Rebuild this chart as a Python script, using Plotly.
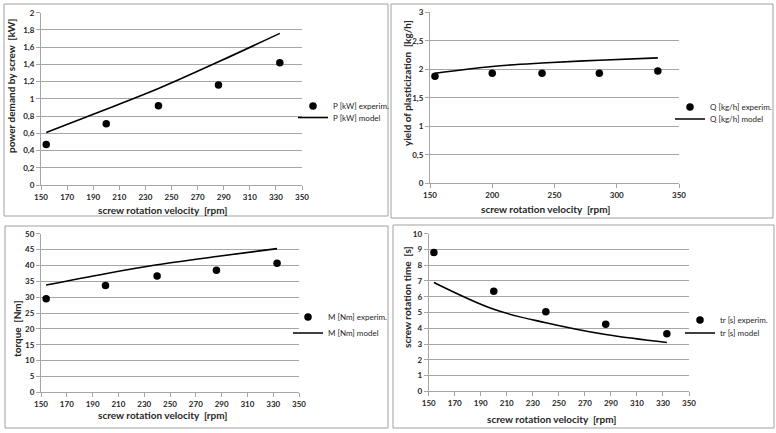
import plotly.graph_objects as go

W, H = 776, 433

# ---- data ----
rpm = [154, 200, 240, 286, 333]

P_exp = [0.47, 0.71, 0.92, 1.16, 1.42]
P_mod = [0.61, 0.88, 1.12, 1.43, 1.76]

Q_exp = [1.88, 1.93, 1.93, 1.93, 1.97]
Q_mod = [1.93, 2.05, 2.11, 2.16, 2.20]

M_exp = [29.5, 33.7, 36.7, 38.5, 40.7]
M_mod = [33.8, 37.4, 40.2, 42.8, 45.3]

tr_exp = [8.8, 6.35, 5.05, 4.25, 3.65]
tr_mod = [6.9, 5.2, 4.35, 3.6, 3.1]

XTITLE = "screw rotation velocity  [rpm]"

panels = [
    dict(exp=P_exp, mod=P_mod, name="P [kW]", ytitle="power demand by screw  [kW]",
         yr=[0, 2], dy=0.2, xd=20, px=(41, 302), py=(12.7, 185),
         box=(4, 4, 388, 216), leg=(293, 106, 117.5), xt=(162, 210), yt=(11, 86)),
    dict(exp=Q_exp, mod=Q_mod, name="Q [kg/h]", ytitle="yield of plasticization  [kg/h]",
         yr=[0, 3], dy=0.5, xd=50, px=(430, 679), py=(12.3, 183.3),
         box=(391, 4, 773, 218), leg=(670, 107, 119), xt=(545, 209), yt=(407, 83)),
    dict(exp=M_exp, mod=M_mod, name="M [Nm]", ytitle="torque  [Nm]",
         yr=[0, 50], dy=5, xd=20, px=(41, 299), py=(233.7, 392.3),
         box=(5, 226, 388, 428), leg=(288, 317, 333), xt=(162, 415), yt=(17, 329)),
    dict(exp=tr_exp, mod=tr_mod, name="tr [s]", ytitle="screw rotation time  [s]",
         yr=[0, 10], dy=1, xd=20, px=(428.7, 689), py=(233.7, 391.3),
         box=(393, 225, 774, 428), leg=(680, 320, 333), xt=(551, 419), yt=(407, 297)),
]

FONT = "Lato"
TXT = "#262626"
GRID = "#a6a6a6"

fig = go.Figure()
layout = dict(width=W, height=H, margin=dict(l=0, r=0, t=0, b=0, autoexpand=False), template="none",
              paper_bgcolor="white", plot_bgcolor="white", separators=", ",
              showlegend=True,
              font=dict(family=FONT, color=TXT), shapes=[], annotations=[])

for i, p in enumerate(panels):
    n = i + 1
    xa = "x" if n == 1 else f"x{n}"
    ya = "y" if n == 1 else f"y{n}"
    lga = "legend" if n == 1 else f"legend{2 * n - 1}"
    lgb = f"legend{2 * n}"
    fig.add_trace(go.Scatter(x=rpm, y=p["exp"], mode="markers", name=p["name"] + " experim.",
                             marker=dict(color="black", size=7.5), xaxis=xa, yaxis=ya,
                             legend=lga, showlegend=True))
    fig.add_trace(go.Scatter(x=rpm, y=p["mod"], mode="lines", name=p["name"] + " model",
                             line=dict(color="black", width=1.6, shape="spline"),
                             xaxis=xa, yaxis=ya, legend=lgb, showlegend=True))
    x0, x1 = p["px"]
    y0, y1 = p["py"]
    xkey = "xaxis" if n == 1 else f"xaxis{n}"
    ykey = "yaxis" if n == 1 else f"yaxis{n}"
    layout[xkey] = dict(domain=[x0 / W, x1 / W], anchor=ya, range=[150, 350], automargin=False,
                        dtick=p["xd"], tick0=150, showgrid=False, zeroline=False,
                        showline=True, linecolor=GRID, linewidth=1,
                        ticks="outside", ticklen=4, tickcolor=GRID,
                        tickfont=dict(size=8, weight="bold", color=TXT))
    layout[ykey] = dict(domain=[1 - y1 / H, 1 - y0 / H], anchor=xa, range=p["yr"], automargin=False,
                        dtick=p["dy"], tick0=0, showgrid=True, gridcolor=GRID, gridwidth=1,
                        zeroline=False, showline=True, linecolor=GRID, linewidth=1,
                        ticks="outside", ticklen=4, tickcolor=GRID,
                        tickfont=dict(size=8, weight="bold", color=TXT))
    # axis titles
    xtx, xty = p["xt"]
    layout["annotations"].append(dict(text=XTITLE, xref="paper", yref="paper",
                                      x=xtx / W, y=1 - xty / H, xanchor="center", yanchor="middle",
                                      showarrow=False, font=dict(size=10, weight="bold", color=TXT)))
    ytx, yty = p["yt"]
    layout["annotations"].append(dict(text=p["ytitle"], xref="paper", yref="paper", textangle=-90,
                                      x=ytx / W, y=1 - yty / H, xanchor="center", yanchor="middle",
                                      showarrow=False, font=dict(size=10, weight="bold", color=TXT)))
    lx, ya_, yb_ = p["leg"]
    for key, yy in ((lga, ya_), (lgb, yb_)):
        layout[key] = dict(x=lx / W, y=1 - yy / H, xanchor="left", yanchor="middle",
                           bgcolor="rgba(0,0,0,0)", font=dict(size=8, color=TXT),
                           itemwidth=30, visible=True)
    bx0, by0, bx1, by1 = p["box"]
    layout["shapes"].append(dict(type="rect", xref="paper", yref="paper",
                                 x0=bx0 / W, x1=bx1 / W, y0=1 - by1 / H, y1=1 - by0 / H,
                                 line=dict(color="#a0a0a0", width=1)))

fig.update_layout(**layout)
fig.write_html("out.html", config={"displayModeBar": False},
               post_script="document.body.style.margin='0';document.body.style.overflow='hidden';")
